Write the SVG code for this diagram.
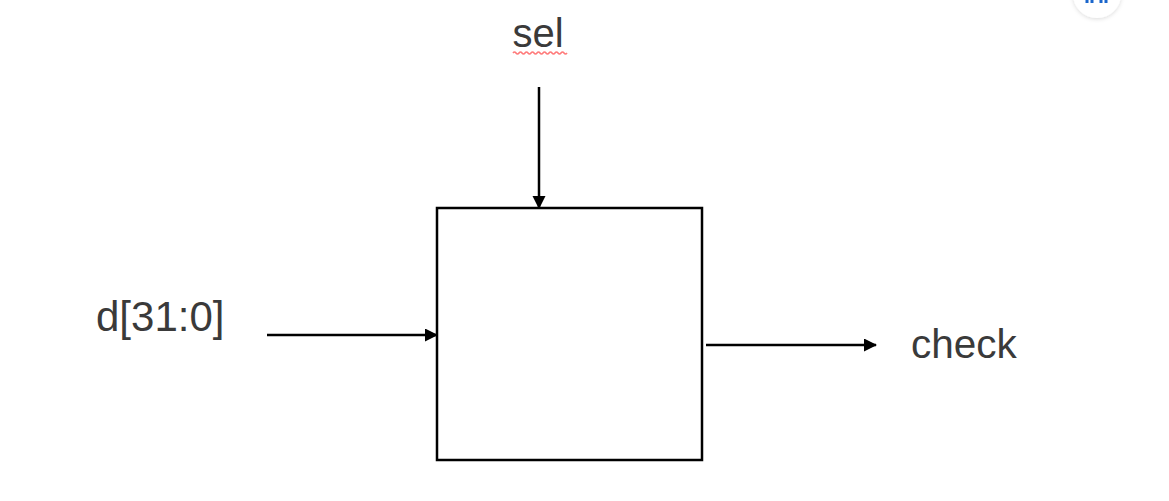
<svg xmlns="http://www.w3.org/2000/svg" width="1169" height="501" viewBox="0 0 1169 501">
  <style>
    .lbl { font-family: "Liberation Sans", Arial, sans-serif; font-size: 40px; fill: #3a3a3a; }
    .wire { stroke: #000; stroke-width: 2.5; fill: none; }
    .box { stroke: #000; stroke-width: 2.5; fill: #fff; }
  </style>
  <defs>
    <marker id="arr" markerUnits="userSpaceOnUse" markerWidth="14" markerHeight="14" refX="12" refY="6.5" orient="auto">
      <path d="M0,0 L13,6.5 L0,13 Z" fill="#000"/>
    </marker>
    <filter id="sh" x="-50%" y="-50%" width="200%" height="200%">
      <feDropShadow dx="0" dy="1" stdDeviation="2" flood-color="#000" flood-opacity="0.15"/>
    </filter>
  </defs>
  <rect width="1169" height="501" fill="#fff"/>
  <g id="widget">
    <circle cx="1097" cy="-6" r="24" fill="#fff" filter="url(#sh)"/>
    <path d="M1087,0 v3 M1092,0 v3 M1101,0 v3 M1106,0 v3" stroke="#1a66cc" stroke-width="3"/>
  </g>
  <g id="block">
    <rect class="box" x="437" y="208" width="265" height="252"/>
  </g>
  <g id="sel">
    <text class="lbl" x="538" y="47" text-anchor="middle">sel</text>
    <path d="M513,53 q1.5,-2 3,0 t3,0 t3,0 t3,0 t3,0 t3,0 t3,0 t3,0 t3,0 t3,0 t3,0 t3,0 t3,0 t3,0 t3,0 t3,0 t3,0 t3,0" stroke="#ff7a7a" stroke-width="1.6" fill="none"/>
  </g>
  <g id="d">
    <text class="lbl" x="96" y="331" style="font-size:42px">d[31:0]</text>
  </g>
  <g id="check">
    <text class="lbl" x="911" y="358" style="font-size:40.5px">check</text>
  </g>
  <g id="connectors">
    <line class="wire" x1="539" y1="87" x2="539" y2="208" marker-end="url(#arr)"/>
    <line class="wire" x1="267" y1="335" x2="437" y2="335" marker-end="url(#arr)"/>
    <line class="wire" x1="706" y1="345" x2="876" y2="345" marker-end="url(#arr)"/>
  </g>
</svg>
